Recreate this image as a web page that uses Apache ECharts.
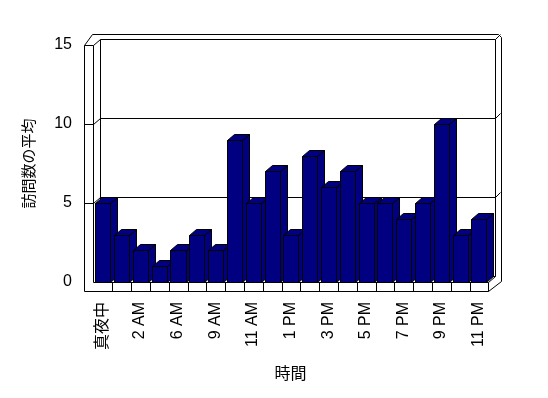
<!DOCTYPE html>
<html>
<head>
<meta charset="utf-8">
<script src="https://cdn.jsdelivr.net/npm/echarts@6/dist/echarts.min.js"></script>
<style>
  html, body { margin: 0; padding: 0; background: #fff; }
  #chart { width: 548px; height: 398px; }
</style>
</head>
<body>
<div id="chart"></div>
<script>
// 時間ごとの訪問数の平均
var hours = ['真夜中', '1 AM', '2 AM', '4 AM', '6 AM', '8 AM', '9 AM', '10 AM', '11 AM', '12 PM', '1 PM',
  '2 PM', '3 PM', '4 PM', '5 PM', '6 PM', '7 PM', '8 PM', '9 PM', '10 PM', '11 PM'];
var visits = [5, 3, 2, 1, 2, 3, 2, 9, 5, 7, 3, 8, 6, 7, 5, 5, 4, 5, 10, 3, 4];
var yTicks = [0, 5, 10, 15];

var fontFam = '"Liberation Sans", "Noto Sans CJK JP", sans-serif';
var navy = '#000080';
var DX = 7, DY = -6; // 奥行き

function C (v) { return Math.round(v) + 0.5; }
function line (pts) {
  return { type: 'polyline', shape: { points: pts }, style: { stroke: '#000', lineWidth: 1, fill: null } };
}

// 壁と床
function renderWalls (params, api) {
  var n = hours.length;
  var bw = api.size([1, 0])[0];
  var xL = C(api.coord([0, 0])[0] - bw / 2);
  var xR = C(api.coord([n - 1, 0])[0] + bw / 2);
  var yB = C(api.coord([0, 0])[1]);
  var yT = C(api.coord([0, yTicks[yTicks.length - 1]])[1]);
  var kids = [];
  kids.push({
    type: 'polygon',
    shape: { points: [[xL - 9, yT], [xL - 1, yT - 11], [xR + 10, yT - 11], [xR + 13, yT - 8],
      [xR + 13, yB - 1], [xR, yB + 9], [xL - 9, yB + 9]] },
    style: { fill: '#fff', stroke: '#000', lineWidth: 1 }
  });
  kids.push(line([[xL - 9, yT], [xL, yT], [xL, yB], [xR, yB]]));
  kids.push(line([[xL, yT], [xL + DX, yT + DY], [xR + DX, yT + DY], [xR + DX, yB + DY], [xR, yB]]));
  kids.push(line([[xR + DX, yT + DY], [xR + 12, yT - 11]]));
  kids.push(line([[xL + DX, yT + DY], [xL + DX, yB + DY], [xR + DX, yB + DY]]));
  kids.push(line([[xR, yB], [xR, yB + 9]]));
  for (var k = 1; k < n; k++) {
    var xd = C(xL + k * bw);
    kids.push(line([[xd, yB], [xd, yB + 9]]));
  }
  yTicks.forEach(function (t, idx) {
    if (idx === 0 || idx === yTicks.length - 1) return;
    var y = C(api.coord([0, t])[1]);
    kids.push(line([[xL - 9, y], [xL, y], [xL + DX, y + DY], [xR + DX, y + DY], [xR + 12, y - 11]]));
  });
  return { type: 'group', children: kids };
}

// 3D棒
function renderBar (params, api) {
  var i = api.value(0), v = api.value(1);
  var top = api.coord([i, v]);
  var base = api.coord([i, 0]);
  var bw = api.size([1, 0])[0];
  var xl = C(top[0] - bw * 0.38), xr = C(top[0] + bw * 0.42);
  var yt = C(top[1]), yb = C(base[1]);
  var st = { fill: navy, stroke: '#000', lineWidth: 1 };
  return {
    type: 'group',
    children: [
      { type: 'polygon', shape: { points: [[xr, yt], [xr + DX, yt + DY], [xr + DX, yb + DY], [xr, yb]] }, style: st },
      { type: 'polygon', shape: { points: [[xl, yt], [xl + DX, yt + DY], [xr + DX, yt + DY], [xr, yt]] }, style: st },
      { type: 'rect', shape: { x: xl, y: yt, width: xr - xl, height: yb - yt }, style: st }
    ]
  };
}

var chart = echarts.init(document.getElementById('chart'));
var option = {
  backgroundColor: '#fff',
  animation: false,
  grid: { left: 93, right: 60, top: 45, bottom: 116 },
  xAxis: {
    type: 'category',
    data: hours,
    name: '時間',
    nameLocation: 'middle',
    nameGap: 85,
    nameTextStyle: { fontSize: 16, color: '#000', fontFamily: fontFam },
    axisLine: { show: false },
    axisTick: { show: false },
    axisLabel: { interval: 1, rotate: 90, margin: 20, fontSize: 16, color: '#000', fontFamily: fontFam }
  },
  yAxis: {
    type: 'value',
    min: 0,
    max: 15,
    interval: 5,
    name: '訪問数の平均',
    nameLocation: 'middle',
    nameGap: 56,
    nameRotate: 90,
    nameTextStyle: { fontSize: 15, color: '#000', fontFamily: fontFam },
    axisLine: { show: false },
    axisTick: { show: false },
    splitLine: { show: false },
    axisLabel: { margin: 21, fontSize: 16, color: '#000', fontFamily: fontFam }
  },
  series: [
    { type: 'custom', name: 'walls', z: 1, renderItem: renderWalls, data: [[0, 0]], silent: true },
    {
      type: 'custom',
      name: '訪問数の平均',
      z: 2,
      renderItem: renderBar,
      encode: { x: 0, y: 1 },
      data: visits.map(function (v, i) { return [i, v]; })
    }
  ]
};
chart.setOption(option);
</script>
</body>
</html>
